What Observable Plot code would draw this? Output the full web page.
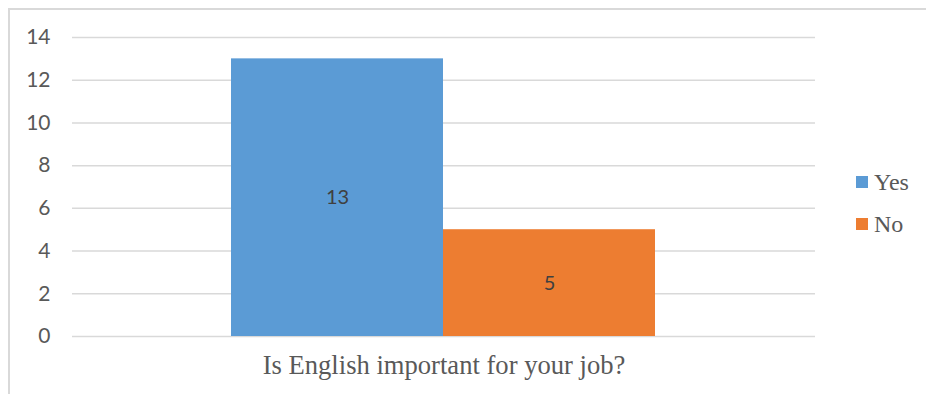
<!DOCTYPE html>
<html>
<head>
<meta charset="utf-8">
<script src="https://cdn.jsdelivr.net/npm/d3@7"></script>
<script src="https://cdn.jsdelivr.net/npm/@observablehq/plot@0.6"></script>
<style>
  html, body { margin: 0; padding: 0; background: #fff; }
  #wrap { position: relative; width: 926px; height: 394px; overflow: hidden; }
  #frame { position: absolute; left: 8px; top: 8px; width: 1000px; height: 1000px;
           border-left: 2px solid #d9d9d9; border-top: 2px solid #d9d9d9; box-sizing: border-box; }
  #chart { position: absolute; left: 0; top: 0; }
  #legend { position: absolute; left: 856px; top: 161px; font-family: "Liberation Serif", "Times New Roman", serif;
            font-size: 24px; color: #595959; }
  .item { display: flex; align-items: center; height: 42px; }
  .sw { width: 12px; height: 12px; margin-right: 6px; }
</style>
</head>
<body>
<div id="wrap">
  <div id="frame"></div>
  <div id="chart"></div>
  <div id="legend"></div>
</div>
<script>
const categories = ["Yes", "No"];
const values = [13, 5];
const colors = ["#5B9BD5", "#ED7D31"];
const yTicks = [0, 2, 4, 6, 8, 10, 12, 14];
const question = "Is English important for your job?";

const data = categories.map((c, i) => ({answer: c, count: values[i]}));

const chart = Plot.plot({
  width: 926,
  height: 394,
  marginLeft: 72,
  marginRight: 111,
  marginTop: 37,
  marginBottom: 58,
  style: {background: "transparent", overflow: "visible"},
  x: {domain: categories, range: [231, 655], padding: 0, axis: null},
  y: {domain: [0, 14], axis: null},
  color: {domain: categories, range: colors},
  marks: [
    Plot.ruleY(yTicks, {stroke: "#d9d9d9", strokeWidth: 1.5}),
    Plot.barY(data, {x: "answer", y: "count", fill: "answer"}),
    Plot.text(data, {x: "answer", y: d => d.count / 2, text: d => String(d.count),
      fill: "#404040", fontSize: 20, fontFamily: "Lato, sans-serif"}),
    Plot.axisY({ticks: yTicks, tickSize: 0, tickPadding: 22, label: null,
      fontSize: 21, fill: "#595959", fontFamily: "Lato, sans-serif"}),
    Plot.text([question], {frameAnchor: "bottom", dy: 37, fontSize: 26.6, fill: "#595959",
      fontFamily: "Liberation Serif, serif"})
  ]
});
document.getElementById("chart").appendChild(chart);

const legend = document.getElementById("legend");
categories.forEach((c, i) => {
  const item = document.createElement("div");
  item.className = "item";
  const sw = document.createElement("div");
  sw.className = "sw";
  sw.style.background = colors[i];
  const label = document.createElement("span");
  label.textContent = c;
  item.appendChild(sw);
  item.appendChild(label);
  legend.appendChild(item);
});
</script>
</body>
</html>
